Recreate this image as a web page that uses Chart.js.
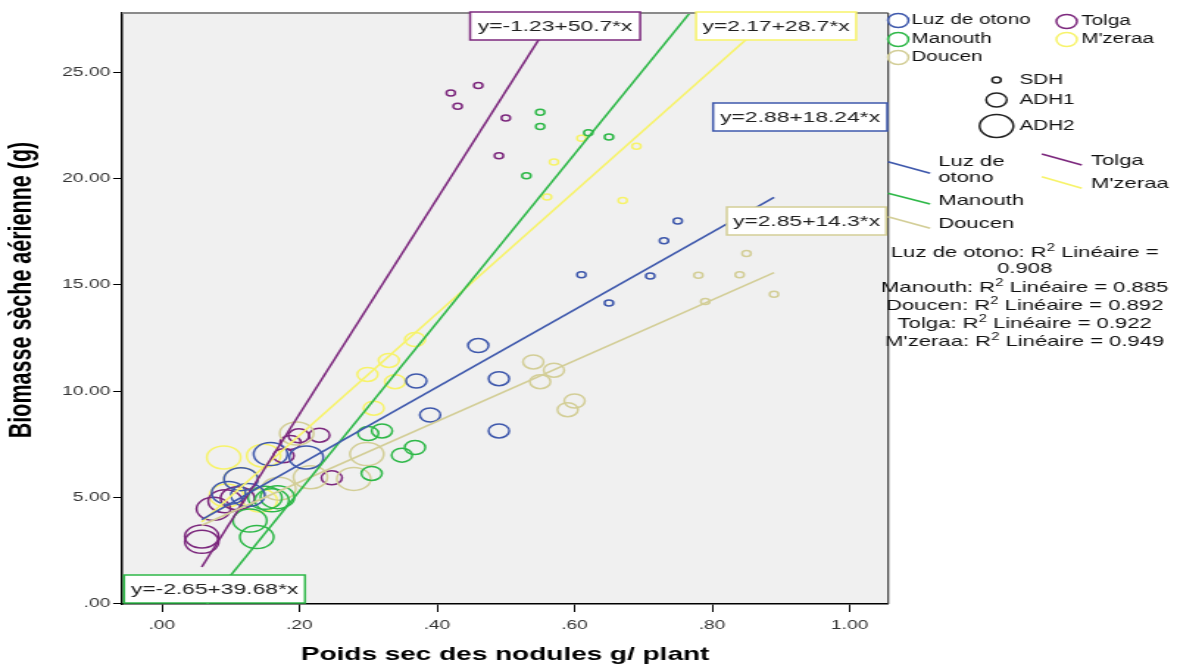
<!DOCTYPE html>
<html>
<head>
<meta charset="utf-8">
<script src="https://cdn.jsdelivr.net/npm/chart.js@4.4.0/dist/chart.umd.min.js"></script>
<style>
  html, body { margin: 0; padding: 0; background: #fff; overflow: hidden; }
  /* the chart is laid out narrow and widened horizontally */
  #wrap { position: absolute; left: 0; top: 0; width: 800px; height: 671px;
          transform: scaleX(1.47125); transform-origin: 0 0; }
</style>
</head>
<body>
<div id="wrap"><canvas id="c"></canvas></div>
<script>
// ---------- data ----------
const cultivars = ['Luz de otono', 'Manouth', 'Doucen', 'Tolga', "M'zeraa"];
const treatments = ['SDH', 'ADH1', 'ADH2'];
// treatment of each point (same order as every value array below)
const pointTreatment = ['SDH','SDH','SDH','SDH','SDH',
                        'ADH1','ADH1','ADH1','ADH1','ADH1',
                        'ADH2','ADH2','ADH2','ADH2','ADH2'];

// nodule dry weight (g/plant)
const luzX     = [0.75, 0.73, 0.61, 0.71, 0.65,  0.46, 0.49, 0.37, 0.39, 0.49,  0.158, 0.21, 0.115, 0.097, 0.125];
const manouthX = [0.55, 0.55, 0.62, 0.65, 0.53,  0.30, 0.32, 0.368, 0.349, 0.305,  0.15, 0.168, 0.128, 0.138, 0.16];
const doucenX  = [0.85, 0.78, 0.84, 0.89, 0.79,  0.54, 0.57, 0.55, 0.60, 0.59,  0.196, 0.216, 0.279, 0.298, 0.17];
const tolgaX   = [0.42, 0.46, 0.43, 0.50, 0.49,  0.177, 0.199, 0.229, 0.187, 0.247,  0.058, 0.058, 0.075, 0.092, 0.11];
const mzeraaX  = [0.61, 0.69, 0.57, 0.56, 0.67,  0.368, 0.33, 0.299, 0.339, 0.308,  0.09, 0.148, 0.115, 0.094, 0.143];

// shoot dry biomass (g)
const luzY     = [18.0, 17.07, 15.47, 15.42, 14.14,  12.14, 10.58, 10.47, 8.87, 8.12,  7.03, 6.87, 5.85, 5.2, 5.1];
const manouthY = [23.13, 22.45, 22.16, 21.96, 20.14,  8.0, 8.12, 7.34, 6.98, 6.12,  4.97, 5.0, 3.9, 3.12, 4.85];
const doucenY  = [16.47, 15.45, 15.47, 14.56, 14.22,  11.37, 10.98, 10.44, 9.53, 9.12,  8.0, 5.94, 5.86, 7.03, 5.4];
const tolgaY   = [24.03, 24.39, 23.41, 22.85, 21.08,  6.95, 7.89, 7.92, 7.58, 5.91,  3.15, 2.9, 4.45, 4.81, 4.95];
const mzeraaY  = [21.9, 21.52, 20.78, 19.13, 18.97,  12.42, 11.44, 10.78, 10.44, 9.19,  6.87, 6.95, 5.86, 5.08, 4.84];

// linear fits y = a + b*x, per cultivar
const fitIntercept = [2.88, -2.65, 2.85, -1.23, 2.17];
const fitSlope     = [18.24, 39.68, 14.3, 50.7, 28.7];
const r2Linear     = [0.908, 0.885, 0.892, 0.922, 0.949];

// axes
const xTickValues = [0, 0.2, 0.4, 0.6, 0.8, 1.0];
const xTickLabels = ['.00', '.20', '.40', '.60', '.80', '1.00'];
const yTickValues = [0, 5, 10, 15, 20, 25];
const yTickLabels = ['.00', '5.00', '10.00', '15.00', '20.00', '25.00'];
const xTitle = 'Poids sec des nodules g/ plant';
const yTitle = 'Biomasse sèche aérienne (g)';

// ---------- styles ----------
const FONT = "'Liberation Sans', Arial, Helvetica, sans-serif";
const cultivarColor = ['#3E58AC', '#2EB848', '#D3CE97', '#7C287D', '#F7F36A'];
const markerRadius = { SDH: 3, ADH1: 7, ADH2: 11.5 };

const xs = [luzX, manouthX, doucenX, tolgaX, mzeraaX];
const ys = [luzY, manouthY, doucenY, tolgaY, mzeraaY];

// fit lines span the overall range of the nodule weights
const allX = xs.flat();
const fitXMin = Math.min(...allX);
const fitXMax = Math.max(...allX);

const eqText = i => 'y=' + fitIntercept[i] + '+' + fitSlope[i] + '*x';

const pointSets = cultivars.map((name, i) => ({
  type: 'scatter',
  label: name,
  data: xs[i].map((x, k) => ({ x: x, y: ys[i][k] })),
  borderColor: cultivarColor[i],
  backgroundColor: 'rgba(0,0,0,0)',
  borderWidth: 1.5,
  pointStyle: 'circle',
  pointRadius: c => markerRadius[pointTreatment[c.dataIndex]],
  pointHoverRadius: c => markerRadius[pointTreatment[c.dataIndex]],
  order: 2
}));

const lineSets = cultivars.map((name, i) => ({
  type: 'line',
  label: name + ' fit',
  data: [fitXMin, fitXMax].map(x => ({ x: x, y: fitIntercept[i] + fitSlope[i] * x })),
  borderColor: cultivarColor[i],
  borderWidth: 1.6,
  pointRadius: 0,
  fill: false,
  order: 1
}));

// text with a superscript "2" after "R"
function r2Parts(prefix, suffix) {
  return [
    { t: prefix + 'R', f: '15px ' + FONT, dy: 0 },
    { t: '2', f: '10px ' + FONT, dy: -5 },
    { t: suffix, f: '15px ' + FONT, dy: 0 }
  ];
}
function drawParts(ctx, parts, cx, y) {
  let w = 0;
  parts.forEach(p => { ctx.font = p.f; p.w = ctx.measureText(p.t).width; w += p.w; });
  let x = cx - w / 2;
  ctx.textAlign = 'left';
  ctx.textBaseline = 'middle';
  parts.forEach(p => { ctx.font = p.f; ctx.fillText(p.t, x, y + p.dy); x += p.w; });
}

const decor = {
  id: 'decor',
  beforeDraw(chart) {
    const { ctx, chartArea: a } = chart;
    ctx.save();
    ctx.fillStyle = '#f0f0f0';
    ctx.fillRect(a.left, a.top, a.right - a.left, a.bottom - a.top);
    ctx.restore();
  },
  afterDatasetsDraw(chart) {
    const { ctx, chartArea: a } = chart;
    ctx.save();

    // frame: top and right edges of the plot
    ctx.strokeStyle = '#8a8a8a';
    ctx.lineWidth = 2;
    ctx.beginPath(); ctx.moveTo(a.left, a.top); ctx.lineTo(a.right, a.top); ctx.stroke();
    ctx.strokeStyle = '#3a3a3a';
    ctx.lineWidth = 1.2;
    ctx.beginPath(); ctx.moveTo(a.right, a.top); ctx.lineTo(a.right, a.bottom); ctx.stroke();

    // vertical axis title, set a little above the plot's middle
    ctx.save();
    ctx.translate(15.5, 290);
    ctx.rotate(-Math.PI / 2);
    ctx.fillStyle = '#000';
    ctx.font = 'bold 21.5px ' + FONT;
    ctx.textAlign = 'center';
    ctx.textBaseline = 'middle';
    ctx.fillText(yTitle, 0, 0);
    ctx.restore();

    // equation boxes: [cultivar, left, top, width, height]
    const boxes = [
      [0, 484.7, 103, 118.3, 28],
      [1, 84.3, 575, 123, 28],
      [2, 494.0, 207, 108.3, 28],
      [3, 319.5, 12, 115.6, 28],
      [4, 473.1, 12, 108.8, 28]
    ];
    boxes.forEach(([i, l, t, w, h]) => {
      ctx.fillStyle = '#ffffff';
      ctx.fillRect(l, t, w, h);
      ctx.strokeStyle = cultivarColor[i];
      ctx.lineWidth = 1.5;
      ctx.strokeRect(l, t, w, h);
      ctx.fillStyle = '#222';
      ctx.font = '15.5px ' + FONT;
      ctx.textAlign = 'center';
      ctx.textBaseline = 'middle';
      ctx.fillText(eqText(i), l + w / 2, t + h / 2 + 1);
    });

    // legend: cultivar markers  [cultivar, markerX, y, textX]
    const markerRows = [
      [0, 610.5, 20.5, 619.5],
      [1, 610.5, 39.5, 619.5],
      [2, 610.5, 57.5, 619.5],
      [3, 725.0, 21.5, 735.0],
      [4, 725.0, 39.5, 735.0]
    ];
    ctx.font = '14px ' + FONT;
    ctx.textAlign = 'left';
    ctx.textBaseline = 'middle';
    markerRows.forEach(([i, mx, my, tx]) => {
      ctx.strokeStyle = cultivarColor[i];
      ctx.lineWidth = 1.5;
      ctx.beginPath(); ctx.arc(mx, my, 7, 0, Math.PI * 2); ctx.stroke();
      ctx.fillStyle = '#111';
      ctx.fillText(cultivars[i], tx, my);
    });

    // legend: treatment sizes
    const sizeRows = [['SDH', 80], ['ADH1', 100], ['ADH2', 126]];
    sizeRows.forEach(([tr, y]) => {
      ctx.strokeStyle = '#222';
      ctx.lineWidth = 1.5;
      ctx.beginPath(); ctx.arc(677.3, y, markerRadius[tr], 0, Math.PI * 2); ctx.stroke();
      ctx.fillStyle = '#111';
      ctx.font = '14px ' + FONT;
      ctx.fillText(tr, 693, y);
    });

    // legend: fit lines  [cultivar, x0, y0, x1, y1, textX, textLines, textY]
    const lineRows = [
      [0, 603.5, 161.7, 632.2, 173.3, 637.7, ['Luz de', 'otono'], 162],
      [1, 603.5, 193.3, 632.2, 204.0, 637.7, ['Manouth'], 201],
      [2, 603.5, 216.7, 632.2, 228.3, 637.7, ['Doucen'], 224],
      [3, 708.1, 154.0, 735.3, 165.0, 741.5, ['Tolga'], 161],
      [4, 708.1, 176.7, 735.3, 188.3, 741.5, ["M'zeraa"], 184]
    ];
    lineRows.forEach(([i, x0, y0, x1, y1, tx, lines, ty]) => {
      ctx.strokeStyle = cultivarColor[i];
      ctx.lineWidth = 1.6;
      ctx.beginPath(); ctx.moveTo(x0, y0); ctx.lineTo(x1, y1); ctx.stroke();
      ctx.fillStyle = '#111';
      ctx.font = '15px ' + FONT;
      lines.forEach((s, k) => ctx.fillText(s, tx, ty + k * 16));
    });

    // R² of each fit
    ctx.fillStyle = '#111';
    const cx = 696.5;
    drawParts(ctx, r2Parts(cultivars[0] + ': ', ' Linéaire ='), cx, 253);
    ctx.font = '15px ' + FONT; ctx.textAlign = 'center';
    ctx.fillText(r2Linear[0].toFixed(3), cx, 269);
    [1, 2, 3, 4].forEach((i, k) => {
      drawParts(ctx, r2Parts(cultivars[i] + ': ', ' Linéaire = ' + r2Linear[i].toFixed(3)), cx, 288 + k * 18);
    });

    ctx.restore();
  }
};

Chart.defaults.font.family = FONT;

new Chart(document.getElementById('c'), {
  data: { datasets: pointSets.concat(lineSets) },
  options: {
    responsive: true,
    maintainAspectRatio: false,
    animation: false,
    events: [],
    layout: { padding: { left: 0, top: 10, right: 196.3, bottom: 0 } },
    plugins: { legend: { display: false }, tooltip: { enabled: false } },
    scales: {
      x: {
        type: 'linear',
        min: -0.058,
        max: 1.056,
        afterBuildTicks: s => { s.ticks = xTickValues.map(v => ({ value: v })); },
        afterFit: s => { s.height = 67; },
        ticks: {
          autoSkip: false, maxRotation: 0, padding: 6,
          color: '#333', font: { size: 13 },
          callback: (v, i) => xTickLabels[i]
        },
        grid: { drawOnChartArea: false, drawTicks: true, tickLength: 8, color: '#000', lineWidth: 1 },
        border: { display: true, color: '#000', width: 1.5 },
        title: {
          display: true, text: xTitle,
          color: '#000', font: { size: 19, weight: 'bold' },
          padding: { top: 0, bottom: 5 }
        }
      },
      y: {
        type: 'linear',
        min: -0.03,
        max: 27.8,
        afterBuildTicks: s => { s.ticks = yTickValues.map(v => ({ value: v })); },
        afterFit: s => { s.width = 82.9; },
        ticks: {
          autoSkip: false, padding: 2,
          color: '#333', font: { size: 13 },
          callback: (v, i) => yTickLabels[i]
        },
        grid: { drawOnChartArea: false, drawTicks: true, tickLength: 6, color: '#000', lineWidth: 1 },
        border: { display: true, color: '#000', width: 1.5 },
        title: { display: false }
      }
    }
  },
  plugins: [decor]
});
</script>
</body>
</html>
